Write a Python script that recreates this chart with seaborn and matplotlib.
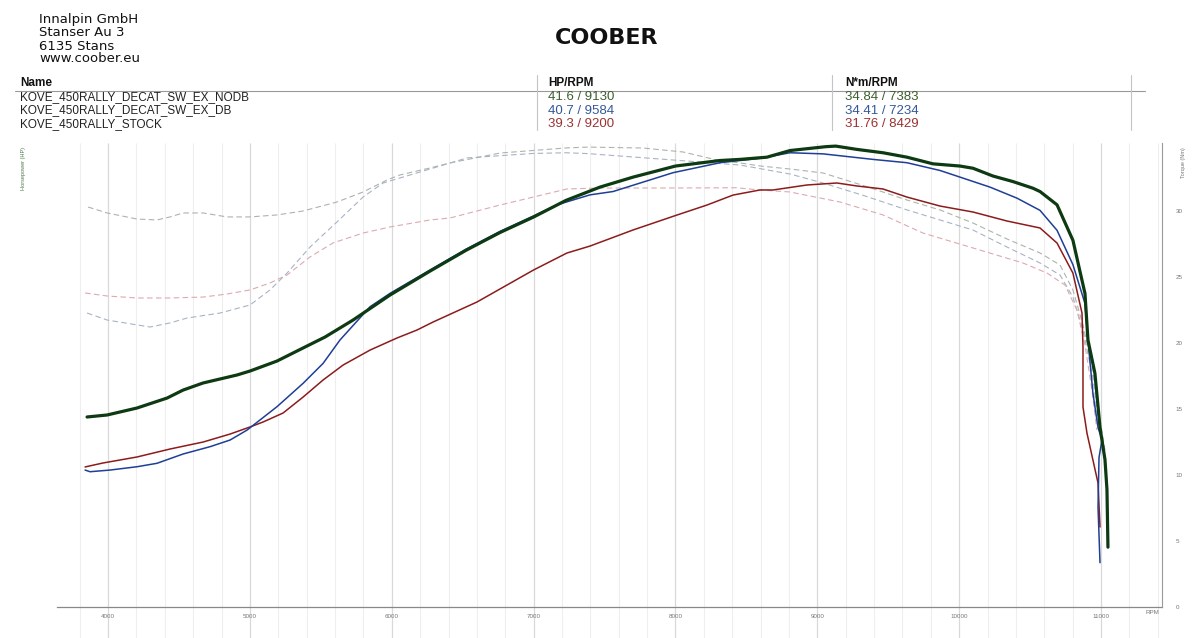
import numpy as np
import pandas as pd
import matplotlib
matplotlib.use("Agg")
import matplotlib.pyplot as plt
import seaborn as sns

# Noms des essais et maxima affichés dans le tableau
noms = ["KOVE_450RALLY_DECAT_SW_EX_NODB", "KOVE_450RALLY_DECAT_SW_EX_DB", "KOVE_450RALLY_STOCK"]
hp_max = ["41.6 / 9130", "40.7 / 9584", "39.3 / 9200"]
nm_max = ["34.84 / 7383", "34.41 / 7234", "31.76 / 8429"]
adresse = ["Innalpin GmbH", "Stanser Au 3", "6135 Stans", "www.coober.eu"]

# Puissance (HP)
rpm_hp_nodb = [3852, 3993, 4204, 4416, 4529, 4670, 4909, 5001, 5191, 5375, 5530, 5727, 5988, 6270, 6524,
               6763, 7000, 7228, 7468, 7701, 8000, 8314, 8455, 8645, 8808, 9061, 9130, 9280, 9463, 9632,
               9815, 10006, 10098, 10238, 10379, 10520, 10570, 10690, 10802, 10887, 10908, 10957, 10993,
               11028, 11042, 11049]
hp_nodb = [17.15, 17.33, 17.96, 18.86, 19.58, 20.22, 20.94, 21.30, 22.20, 23.38, 24.37, 25.90, 28.16, 30.32,
           32.2, 33.8, 35.2, 36.7, 37.9, 38.8, 39.8, 40.3, 40.4, 40.6, 41.2, 41.55, 41.6, 41.3, 41.0, 40.6,
           40.0, 39.8, 39.6, 38.9, 38.4, 37.8, 37.5, 36.3, 33.1, 28.3, 24.1, 21.1, 16.2, 13.3, 10.6, 5.4]

rpm_hp_db = [3838, 3873, 4014, 4204, 4345, 4529, 4719, 4860, 4980, 5071, 5191, 5375, 5516, 5635, 5847,
             5988, 6270, 6524, 6763, 7000, 7165, 7398, 7560, 7983, 8314, 8596, 8808, 9040, 9393, 9632,
             9865, 10006, 10217, 10408, 10570, 10690, 10802, 10887, 10908, 10943, 10979, 11007, 10986,
             10979, 10993]
hp_db = [12.36, 12.21, 12.36, 12.66, 12.97, 13.81, 14.47, 15.07, 15.97, 16.88, 18.08, 20.19, 21.99, 24.10,
         27.10, 28.31, 30.42, 32.3, 33.9, 35.3, 36.3, 37.2, 37.5, 39.2, 40.1, 40.5, 41.0, 40.9, 40.4, 40.1,
         39.4, 38.8, 37.9, 36.9, 35.8, 34.0, 30.9, 27.4, 24.1, 19.3, 16.2, 15.1, 13.5, 9.0, 4.0]

rpm_hp_stock = [3838, 3965, 4204, 4437, 4670, 4860, 5001, 5093, 5234, 5375, 5516, 5657, 5847, 6037, 6178,
                6291, 6601, 7000, 7235, 7398, 7701, 8011, 8222, 8406, 8596, 8688, 8927, 9139, 9280, 9463,
                9632, 9865, 10098, 10337, 10570, 10690, 10802, 10866, 10873, 10873, 10901, 10943, 10979,
                10993]
hp_stock = [12.64, 13.0, 13.54, 14.26, 14.89, 15.61, 16.25, 16.70, 17.51, 18.95, 20.49, 21.84, 23.19, 24.28,
            25.0, 25.72, 27.53, 30.42, 31.95, 32.58, 34.03, 35.38, 36.28, 37.18, 37.64, 37.64, 38.09, 38.27,
            38.0, 37.73, 37.0, 36.19, 35.65, 34.84, 34.21, 32.85, 30.14, 26.53, 23.47, 18.05, 15.70, 13.27,
            11.19, 7.22]

rpm_nm_nodb = [3859, 3993, 4204, 4345, 4437, 4529, 4670, 4839, 5001, 5191, 5375, 5614, 5798, 5967, 6058,
               6270, 6411, 6763, 7235, 7384, 7771, 8053, 8293, 8455, 8596, 8808, 9040, 9336, 9632, 9865,
               10097, 10337, 10570, 10711, 10802, 10873, 10943, 10993, 11028]
nm_nodb = [30.30, 29.85, 29.39, 29.32, 29.55, 29.85, 29.85, 29.55, 29.55, 29.70, 30.0, 30.68, 31.44, 32.35,
           32.73, 33.26, 33.64, 34.39, 34.78, 34.84, 34.77, 34.47, 33.86, 33.64, 33.41, 33.18, 32.88, 31.89,
           30.83, 30.08, 29.09, 27.88, 26.82, 25.91, 24.02, 21.36, 17.95, 14.17, 11.89]

rpm_nm_db = [3852, 3993, 4296, 4437, 4557, 4790, 5001, 5142, 5262, 5424, 5614, 5798, 5939, 6270, 6531,
             7000, 7234, 7376, 7701, 8173, 8455, 8808, 9040, 9336, 9632, 9865, 10097, 10337, 10570, 10711,
             10802, 10873, 10943, 10993]
nm_db = [22.27, 21.74, 21.21, 21.52, 21.89, 22.27, 22.88, 24.02, 25.30, 27.27, 29.17, 31.06, 32.12, 33.18,
         34.02, 34.36, 34.41, 34.35, 34.09, 33.71, 33.48, 32.80, 32.12, 31.14, 30.08, 29.32, 28.56, 27.27,
         26.06, 25.15, 23.48, 20.98, 17.35, 12.88]

rpm_nm_stock = [3838, 3993, 4204, 4437, 4670, 4839, 5001, 5142, 5262, 5424, 5586, 5798, 5988, 6270, 6411,
                6763, 7000, 7235, 7468, 7940, 8429, 8596, 8808, 9160, 9463, 9745, 10097, 10450, 10619,
                10746, 10830, 10887, 10936, 10971]
nm_stock = [23.79, 23.56, 23.41, 23.41, 23.48, 23.71, 24.02, 24.55, 25.15, 26.52, 27.58, 28.33, 28.79, 29.32,
            29.47, 30.45, 31.06, 31.67, 31.74, 31.74, 31.76, 31.59, 31.44, 30.68, 29.70, 28.33, 27.20, 26.06,
            25.30, 24.39, 22.50, 19.85, 16.44, 13.41]

couleurs = ["#0d3a12", "#1f3f96", "#8c1c1c"]
couleurs_nm = ["#aab5aa", "#a6b4c6", "#dcaab0"]
couleurs_txt = ["#3f5f30", "#35589a", "#9a3232"]
epaisseurs = [2.3, 1.1, 1.1]

sns.set_style("white")
plt.rcParams["font.family"] = ["Liberation Sans", "DejaVu Sans"]

W, H = 1200, 638
fig = plt.figure(figsize=(12, 6.38), dpi=100)

def fx(px):
    return px / W

def fy(py):
    return 1 - py / H

# Axe du couple (échelle de droite), puis axe de la puissance par dessus
ax = fig.add_axes([fx(57), fy(607), fx(1162 - 57), (607 - 143) / H])
ax2 = ax.twinx()

data_nm = [(rpm_nm_nodb, nm_nodb), (rpm_nm_db, nm_db), (rpm_nm_stock, nm_stock)]
data_hp = [(rpm_hp_nodb, hp_nodb), (rpm_hp_db, hp_db), (rpm_hp_stock, hp_stock)]

for i, (r, v) in enumerate(data_nm):
    df = pd.DataFrame({"rpm": r, "nm": v})
    sns.lineplot(data=df, x="rpm", y="nm", ax=ax, sort=False, estimator=None,
                 color=couleurs_nm[i], linewidth=0.8, linestyle=(0, (5, 3)))

for i in [2, 1, 0]:
    r, v = data_hp[i]
    df = pd.DataFrame({"rpm": r, "hp": v})
    sns.lineplot(data=df, x="rpm", y="hp", ax=ax2, sort=False, estimator=None,
                 color=couleurs[i], linewidth=epaisseurs[i])

ax.set_xlim(3640, 11430)
ax.set_ylim(0, 35.15)
ax2.set_ylim(0, 41.88)

# Grille verticale (200 RPM) prolongée jusqu'en bas
grille = np.arange(3800, 11401, 200)
majeurs = grille[grille % 1000 == 0]
mineurs = grille[grille % 1000 != 0]
ax.vlines(mineurs, -0.067, 1, transform=ax.get_xaxis_transform(), clip_on=False,
          color="#eeeeee", linewidth=0.8, zorder=0)
ax.vlines(majeurs, -0.067, 1, transform=ax.get_xaxis_transform(), clip_on=False,
          color="#d9d9d9", linewidth=0.9, zorder=0)

for a in (ax, ax2):
    for s in ("top", "left"):
        a.spines[s].set_visible(False)
    a.set_xlabel("")
    a.set_ylabel("")
ax.spines["right"].set_visible(False)
ax2.spines["bottom"].set_visible(False)
ax2.spines["right"].set_color("#999999")
ax2.spines["right"].set_linewidth(0.8)
ax.spines["bottom"].set_color("#888888")
ax.spines["bottom"].set_linewidth(0.9)

ax.set_xticks(majeurs[majeurs >= 4000])
ax.set_xticklabels([str(v) for v in majeurs[majeurs >= 4000]])
ax.set_xticks(mineurs, minor=True)
ax.tick_params(axis="x", which="both", length=2, width=0.5, color="#999999",
               labelsize=4.5, labelcolor="#777777", pad=3)

ax.yaxis.tick_right()
ax.set_yticks([0, 5, 10, 15, 20, 25, 30])
ax.tick_params(axis="y", length=0, labelsize=4.5, labelcolor="#777777", pad=10)
ax2.set_yticks([])

fig.text(fx(1152), fy(612), "RPM", fontsize=4.5, color="#777777", ha="center", va="center")
fig.text(fx(23), fy(147), "Horsepower (HP)", fontsize=4, color="#4a7a4a",
         rotation=90, ha="center", va="top")
fig.text(fx(1183), fy(147), "Torque (Nm)", fontsize=4, color="#777777",
         rotation=90, ha="center", va="top")

# En-tête : adresse et logo
for k, ligne in enumerate(adresse):
    fig.text(fx(39), fy(20 + 13 * k), ligne, fontsize=9.5, color="#111111", va="center",
             family="DejaVu Sans")
fig.text(fx(607), fy(38), "COOBER", fontsize=16, fontweight="heavy", color="#111111",
         family="DejaVu Sans", ha="center", va="center")

# Tableau des maxima
fig.text(fx(20), fy(83), "Name", fontsize=8.5, fontweight="bold", color="#111111", va="center")
fig.text(fx(548), fy(83), "HP/RPM", fontsize=8.5, fontweight="bold", color="#111111", va="center")
fig.text(fx(845), fy(83), "N*m/RPM", fontsize=8.5, fontweight="bold", color="#111111", va="center")
fig.add_artist(plt.Line2D([fx(15), fx(1145)], [fy(90.5), fy(90.5)], color="#999999", linewidth=0.8))
for xs in (537, 832, 1131):
    fig.add_artist(plt.Line2D([fx(xs), fx(xs)], [fy(75), fy(130)], color="#c4c4c4", linewidth=0.8))
for k in range(3):
    y = fy(97 + 13.5 * k)
    fig.text(fx(20), y, noms[k], fontsize=8.5, color="#222222", va="center")
    fig.text(fx(548), y, hp_max[k], fontsize=9.5, color=couleurs_txt[k], va="center")
    fig.text(fx(845), y, nm_max[k], fontsize=9.5, color=couleurs_txt[k], va="center")

fig.savefig("out.png", dpi=100)
